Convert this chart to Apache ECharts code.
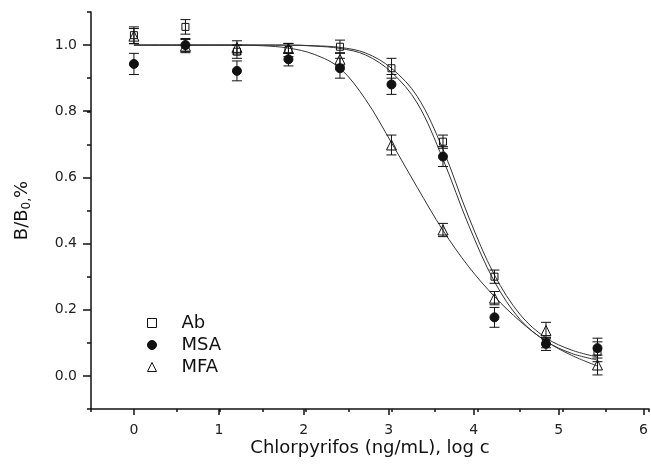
<!DOCTYPE html>
<html>
<head>
    <meta charset="utf-8">
    <title>Chlorpyrifos inhibition curves</title>
    <script src="https://cdn.jsdelivr.net/npm/echarts@6/dist/echarts.min.js"></script>
</head>
<body style="margin:0">
    <div id="main" style="width: 651px;height:464px;"></div>
    <script type="text/javascript">
    var myChart = echarts.init(document.getElementById('main'));
    // Data (log c on x, B/B0 on y)
    var logC = [0, 0.6, 1.2, 1.8, 2.4, 3.0, 3.6, 4.2, 4.8, 5.4];
    var abY = [1.03, 1.055, 0.98, 0.985, 0.995, 0.93, 0.708, 0.30, 0.10, 0.073];
    var abErr = [0.025, 0.022, 0.02, 0.02, 0.02, 0.03, 0.02, 0.02, 0.015, 0.03];
    var msaY = [0.943, 1.0, 0.922, 0.957, 0.93, 0.881, 0.663, 0.177, 0.097, 0.084];
    var msaErr = [0.032, 0.02, 0.03, 0.02, 0.03, 0.03, 0.03, 0.03, 0.02, 0.03];
    var mfaY = [1.027, 0.997, 0.993, 0.99, 0.957, 0.698, 0.441, 0.235, 0.137, 0.033];
    var mfaErr = [0.023, 0.02, 0.02, 0.015, 0.02, 0.03, 0.02, 0.02, 0.025, 0.03];

    // fitted curves
    var fitX = [0, 0.3, 0.6, 0.9, 1.2, 1.5, 1.8, 2.1, 2.4, 2.7, 3.0, 3.3, 3.6, 3.9, 4.2, 4.5, 4.8, 5.1, 5.4];
    var abFit = [1, 1, 1, 1, 1, 1, 1, 0.998, 0.993, 0.976, 0.93, 0.845, 0.685, 0.48, 0.305, 0.185, 0.115, 0.078, 0.057];
    var msaFit = [1, 1, 1, 1, 1, 1, 1, 0.997, 0.99, 0.97, 0.918, 0.825, 0.655, 0.455, 0.285, 0.17, 0.105, 0.068, 0.048];
    var mfaFit = [1, 1, 1, 1, 1, 0.998, 0.991, 0.972, 0.93, 0.835, 0.705, 0.57, 0.44, 0.33, 0.24, 0.165, 0.105, 0.062, 0.03];

    var xTicks = [0, 1, 2, 3, 4, 5, 6];

    var ink = '#111';
    var font = 'DejaVu Sans';

    function pairs(xs, ys) {
      return xs.map(function (x, i) { return [x, ys[i]]; });
    }
    function bars(ys, errs) {
      return logC.map(function (x, i) { return [x, ys[i] - errs[i], ys[i] + errs[i]]; });
    }
    function renderErr(params, api) {
      var x = api.value(0);
      var lo = api.coord([x, api.value(1)]);
      var hi = api.coord([x, api.value(2)]);
      var w = 5;
      var st = { stroke: ink, lineWidth: 1 };
      return {
        type: 'group',
        children: [
          { type: 'line', shape: { x1: lo[0], y1: lo[1], x2: hi[0], y2: hi[1] }, style: st },
          { type: 'line', shape: { x1: lo[0] - w, y1: lo[1], x2: lo[0] + w, y2: lo[1] }, style: st },
          { type: 'line', shape: { x1: hi[0] - w, y1: hi[1], x2: hi[0] + w, y2: hi[1] }, style: st }
        ]
      };
    }
    function fitLine(name, ys) {
      return {
        name: name + ' fit',
        type: 'line',
        data: pairs(fitX, ys),
        smooth: 0.35,
        showSymbol: false,
        silent: true,
        lineStyle: { color: '#333', width: 1 },
        z: 2
      };
    }
    function errSeries(name, ys, errs) {
      return {
        name: name + ' err',
        type: 'custom',
        renderItem: renderErr,
        data: bars(ys, errs),
        silent: true,
        z: 3
      };
    }

    var option = {
      backgroundColor: '#fff',
      animation: false,
      textStyle: { fontFamily: font },
      grid: [
        { left: 91, right: 2, top: 12, bottom: 55 },
        { left: 91, right: 2, top: 45.08, bottom: 88.08 },
        { left: 133.92, right: 2, top: 12, bottom: 55 }
      ],
      xAxis: [{
        gridIndex: 0, type: 'value', min: -0.5, max: 6, interval: 0.5,
        name: 'Chlorpyrifos (ng/mL), log c',
        nameLocation: 'middle',
        nameGap: 30,
        nameTextStyle: { color: ink, fontSize: 18, fontFamily: font },
        axisLine: { onZero: false, lineStyle: { color: ink, width: 1.5 } },
        axisTick: { length: 3, lineStyle: { color: ink, width: 1.5 } },
        axisLabel: { show: false },
        splitLine: { show: false }
      }, {
        gridIndex: 1, type: 'value', min: -0.5, max: 6, show: false
      }, {
        gridIndex: 2, type: 'value', min: 0, max: 6, interval: 1,
        axisLine: { show: false, onZero: false },
        axisTick: { length: 6, lineStyle: { color: ink, width: 1.5 } },
        axisLabel: {
          color: '#222', fontSize: 14, fontFamily: font, margin: 14,
          alignMaxLabel: 'center', alignMinLabel: 'center',
          formatter: function (v) { return xTicks.indexOf(v) >= 0 ? String(v) : ''; }
        },
        splitLine: { show: false }
      }],
      yAxis: [{
        gridIndex: 0, type: 'value', min: -0.1, max: 1.1, interval: 0.1,
        name: '{a|B/B}{s|0,}{a|%}',
        nameLocation: 'middle',
        nameGap: 58,
        nameRotate: 90,
        nameTextStyle: {
          color: ink,
          rich: {
            a: { fontSize: 18, fontFamily: font, color: ink, lineHeight: 20, verticalAlign: 'top' },
            s: { fontSize: 12, fontFamily: font, color: ink, lineHeight: 14, padding: [8, 0, 0, 0], verticalAlign: 'bottom' }
          }
        },
        axisLine: { onZero: false, lineStyle: { color: ink, width: 1.5 } },
        axisTick: { length: 4, lineStyle: { color: ink, width: 1.5 } },
        axisLabel: { show: false },
        splitLine: { show: false }
      }, {
        gridIndex: 1, type: 'value', min: 0, max: 1, interval: 0.2,
        axisLine: { show: false, onZero: false },
        axisTick: { length: 8, lineStyle: { color: ink, width: 1.5 } },
        axisLabel: {
          color: '#222', fontSize: 14, fontFamily: font, margin: 14,
          formatter: function (v) { return v.toFixed(1); }
        },
        splitLine: { show: false }
      }, {
        gridIndex: 2, type: 'value', min: -0.1, max: 1.1, show: false
      }],
      legend: {
        orient: 'vertical',
        left: 142,
        top: 309,
        itemWidth: 9,
        itemHeight: 9,
        itemGap: 4,
        data: ['Ab', 'MSA', 'MFA'],
        itemStyle: { borderWidth: 1 },
        textStyle: { color: ink, fontSize: 18, fontFamily: font, lineHeight: 18, padding: [0, 0, 0, 20] }
      },
      series: [
        fitLine('Ab', abFit),
        fitLine('MSA', msaFit),
        fitLine('MFA', mfaFit),
        errSeries('Ab', abY, abErr),
        errSeries('MSA', msaY, msaErr),
        errSeries('MFA', mfaY, mfaErr),
        {
          name: 'Ab', type: 'scatter', symbol: 'rect', symbolSize: 7,
          data: pairs(logC, abY),
          itemStyle: { color: 'rgba(255,255,255,0)', borderColor: ink, borderWidth: 1, opacity: 1 },
          z: 4
        }, {
          name: 'MSA', type: 'scatter', symbol: 'circle', symbolSize: 9,
          data: pairs(logC, msaY),
          itemStyle: { color: ink, borderColor: ink, borderWidth: 1, opacity: 1 },
          z: 4
        }, {
          name: 'MFA', type: 'scatter', symbol: 'triangle', symbolSize: 10,
          data: pairs(logC, mfaY),
          itemStyle: { color: 'rgba(255,255,255,0)', borderColor: ink, borderWidth: 1, opacity: 1 },
          z: 4
        }
      ]
    };

    myChart.setOption(option);
    </script>
</body>
</html>
